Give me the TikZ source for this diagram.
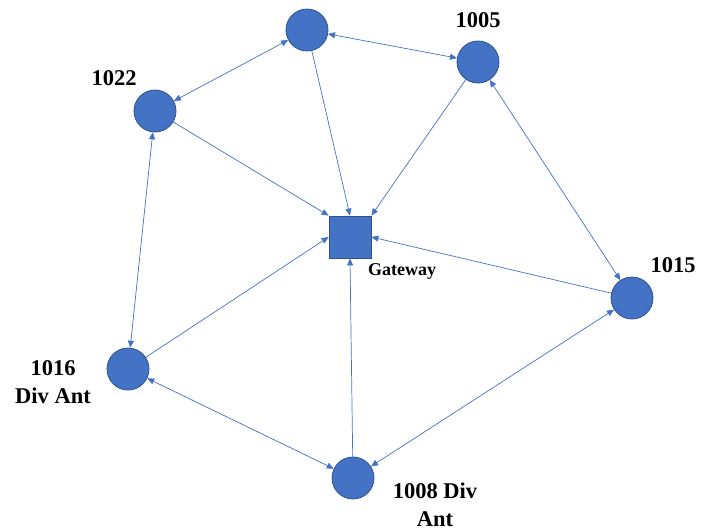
\documentclass[tikz,border=0pt]{standalone}
\usepackage{fontspec}
\setmainfont{Liberation Serif}
\usetikzlibrary{arrows.meta}
\definecolor{nodeblue}{HTML}{4472C4}
\definecolor{rimblue}{HTML}{2F528F}
\tikzstyle{station} = [circle, minimum size=42pt, inner sep=0pt, fill=nodeblue, draw=rimblue, line width=0.8pt]
\tikzstyle{gate} = [rectangle, minimum size=42pt, inner sep=0pt, fill=nodeblue, draw=rimblue, line width=0.8pt]
\tikzstyle{tag} = [font=\bfseries\fontsize{22.5}{28}\selectfont, align=center, inner sep=0pt]
\tikzstyle{smalltag} = [font=\bfseries\fontsize{18}{20}\selectfont, inner sep=0pt]
\tikzstyle{link} = [draw=nodeblue, line width=0.7pt, -{Triangle[width=6pt,length=7pt]}]
\tikzstyle{duplex} = [link, {Triangle[width=6pt,length=7pt]}-{Triangle[width=6pt,length=7pt]}]

\begin{document}
\begin{tikzpicture}[x=1pt, y=-1pt]
    \useasboundingbox (0,0) rectangle (703,531);
    \node [station] at (307,30) (top) {};
    \node [station] at (478,62) (n1005) {};
    \node [station] at (155,111) (n1022) {};
    \node [gate] at (350,237) (gw) {};
    \node [station] at (632,298) (n1015) {};
    \node [station] at (128,369) (n1016) {};
    \node [station] at (353,478) (n1008) {};
    \node [tag] at (478,20) (l1005) {1005};
    \node [tag] at (114,78) (l1022) {1022};
    \node [tag] at (673,265) (l1015) {1015};
    \node [tag] at (53,382) (l1016) {1016\\Div Ant};
    \node [tag] at (435,505) (l1008) {1008 Div\\Ant};
    \node [smalltag] at (402,271) (lgw) {Gateway};
    \draw [duplex] (top) -- (n1005);
    \draw [duplex] (top) -- (n1022);
    \draw [duplex] (n1005) -- (n1015);
    \draw [duplex] (n1022) -- (n1016);
    \draw [duplex] (n1016) -- (n1008);
    \draw [duplex] (n1008) -- (n1015);
    \draw [link] (top) -- (gw.north);
    \draw [link] (n1005) -- (gw.north east);
    \draw [link] (n1022) -- (gw.north west);
    \draw [link] (n1015) -- (gw.east);
    \draw [link] (n1016) -- (gw.west);
    \draw [link] (n1008) -- (gw.south);
\end{tikzpicture}
\end{document}
